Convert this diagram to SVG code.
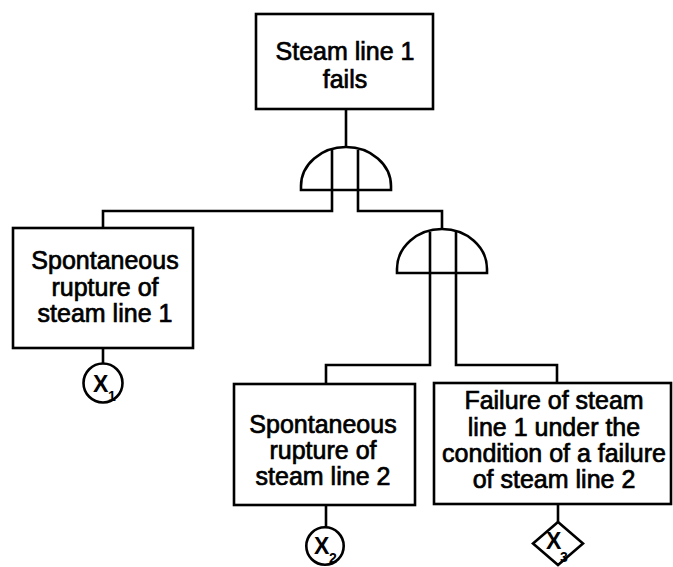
<svg xmlns="http://www.w3.org/2000/svg" width="673" height="567" viewBox="0 0 673 567">
<style>
.box{fill:#fff;stroke:#000;stroke-width:2.6}
.gate{fill:#fff;stroke:#000;stroke-width:2.6}
.conn{fill:none;stroke:#000;stroke-width:2.6}
.lbl{font-family:"Liberation Sans",Arial,sans-serif;font-size:25px;fill:#000;stroke:#000;stroke-width:0.7;text-anchor:middle}
.sym{font-family:"Liberation Sans",Arial,sans-serif;font-size:23px;font-weight:bold;fill:#000}
.sub{font-family:"Liberation Sans",Arial,sans-serif;font-size:14px;font-weight:bold;fill:#000}
</style>
<rect width="673" height="567" fill="#fff"/>
<g id="connectors">
<path class="conn" d="M346,109 V149"/>
<path class="conn" d="M332,149 V211 H103 V228"/>
<path class="conn" d="M358,149 V211 H442 V229"/>
<path class="conn" d="M430,231 V365 H326 V384"/>
<path class="conn" d="M456,231 V365 H557 V383"/>
<path class="conn" d="M103,348 V363"/>
<path class="conn" d="M326,505 V527"/>
<path class="conn" d="M558,504 V522"/>
</g>
<g id="top">
<rect class="box" x="256" y="14" width="177" height="95"/>
<text class="lbl" x="345" y="60">Steam line 1</text>
<text class="lbl" x="345" y="88">fails</text>
</g>
<g id="gate1">
<path class="gate" d="M301,190 V186 A45,39 0 0 1 391,186 V190 Z"/>
<path class="conn" d="M332,150 V190 M358,150 V190"/>
</g>
<g id="gate2">
<path class="gate" d="M397,273 V269 A45,40 0 0 1 487,269 V273 Z"/>
<path class="conn" d="M430,232 V273 M456,232 V273"/>
</g>
<g id="left">
<rect class="box" x="13" y="228" width="180" height="120"/>
<text class="lbl" x="105" y="269">Spontaneous</text>
<text class="lbl" x="105" y="296">rupture of</text>
<text class="lbl" x="105" y="322">steam line 1</text>
</g>
<g id="mid">
<rect class="box" x="234" y="384" width="181" height="121"/>
<text class="lbl" x="323" y="433">Spontaneous</text>
<text class="lbl" x="323" y="459">rupture of</text>
<text class="lbl" x="323" y="485">steam line 2</text>
</g>
<g id="right">
<rect class="box" x="434" y="383" width="237" height="121"/>
<text class="lbl" x="554" y="409">Failure of steam</text>
<text class="lbl" x="554" y="436">line 1 under the</text>
<text class="lbl" x="554" y="462">condition of a failure</text>
<text class="lbl" x="554" y="488">of steam line 2</text>
</g>
<g id="x1">
<circle class="box" cx="103" cy="383" r="19.5"/>
<text class="sym" x="93" y="392">X</text>
<text class="sub" x="108" y="401">1</text>
</g>
<g id="x2">
<circle class="box" cx="325" cy="546" r="18.7"/>
<text class="sym" x="314" y="554">X</text>
<text class="sub" x="329" y="563">2</text>
</g>
<g id="x3">
<path class="box" d="M558,522 L583,543.5 L558,565 L533,543.5 Z"/>
<text class="sym" x="546" y="549">X</text>
<text class="sub" x="560" y="562">3</text>
</g>
</svg>
